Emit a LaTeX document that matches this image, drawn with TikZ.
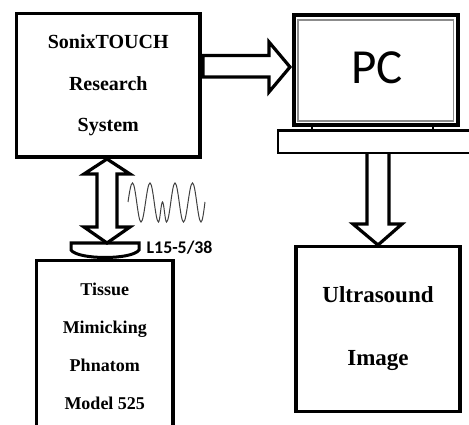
\documentclass[tikz,border=0pt]{standalone}
\usepackage{fontspec}
\setmainfont{Liberation Serif}
\newfontfamily\calib{Carlito}
\usetikzlibrary{calc}
\begin{document}
\begin{tikzpicture}[x=1pt,y=-1pt,
  box/.style={draw, line width=3.2pt, inner sep=0pt, outer sep=0pt, align=center},
  barrow/.style={draw, line width=3.2pt, line join=miter},
  wave/.style={draw=black!75, line width=1pt},
]
\useasboundingbox (0,0) rectangle (469,425);
\clip (0,0) rectangle (469,425);

% boxes
\node[box, minimum width=183.5pt, minimum height=143.5pt,
      font=\bfseries\fontsize{20}{41.5}\selectfont] (sonix) at (108.25,85.25)
      {SonixTOUCH\\Research\\System};
\node[box, minimum width=136.5pt, minimum height=171pt,
      font=\bfseries\fontsize{18}{38}\selectfont] (phantom) at (104.75,346)
      {Tissue\\Mimicking\\Phnatom\\Model 525};
\node[box, minimum width=164pt, minimum height=165pt,
      font=\bfseries\fontsize{23}{63}\selectfont] (us) at (378,329)
      {Ultrasound\\Image};

% PC monitor
\node[draw, line width=4pt, inner sep=0pt, outer sep=0pt,
      minimum width=164.5pt, minimum height=110.5pt] (pc) at (375.75,70.25) {};
\draw[black!45, line width=1.2pt] ($(pc.north west)+(4.5,5)$) rectangle ($(pc.south east)+(-4.5,-4.5)$);
\node[font=\calib\fontsize{49}{50}\selectfont, inner sep=0pt] (pclabel) at (377,68) {PC};
% stand
\draw[line width=2.5pt] (480,130.5) -| (278,153) -- (480,153);
\draw[line width=2pt] (312,125) -- (312,131.5);
\draw[line width=2pt] (433,125) -- (433,131.5);

% block arrows
\draw[barrow] (203,55.5) -- (269,55.5) -- (269,42) -- (290,67) -- (269,92) -- (269,77) -- (203,77) -- cycle;
\draw[barrow] (367,153) -- (367,224) -- (353,224) -- (378,245) -- (402,224) -- (389,224) -- (389,153);
\draw[barrow] (97,174) -- (84,174) -- (107,159) -- (130,174) -- (117,174) -- (117,227) -- (130,227)
   -- (107,243) -- (84,227) -- (97,227) -- cycle;

% transducer
\draw[line width=3pt, line join=miter] (71,243) -- (139,243) -- (139,250)
   .. controls (132,260) and (78,260) .. (71,250) -- cycle;
\node[font=\calib\bfseries\fontsize{17.8}{20}\selectfont, anchor=west, inner sep=0pt] (probe) at (146.5,248) {L15-5/38};

% wave
\draw[wave] (128,202) sin (132.5,183) cos (136.75,202.5) sin (141,222) cos (145.5,202.5)
  sin (150,183) cos (154.25,202.5) sin (158.5,222) cos (160.5,212) sin (162.5,202)
  cos (164.5,212) sin (166.5,222) cos (170.75,202.5) sin (175,183) cos (179.25,202.5)
  sin (183.5,222) cos (188,202.5) sin (192.5,183) cos (196.75,202.5) sin (201,222)
  cos (205,202);
\end{tikzpicture}
\end{document}
